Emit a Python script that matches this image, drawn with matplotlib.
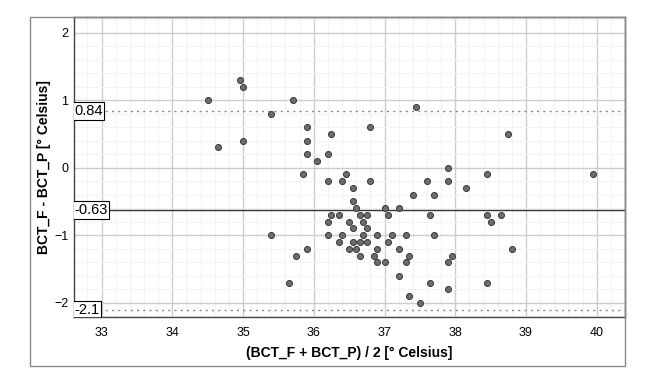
# Bland-Altman plot: BCT_F vs BCT_P
import matplotlib
matplotlib.use('Agg')
import matplotlib.pyplot as plt
from matplotlib.patches import Rectangle
from matplotlib.ticker import MultipleLocator
import matplotlib.transforms as mtransforms

plt.rcParams['font.family'] = ['Liberation Sans', 'DejaVu Sans']

# mean of the two measurements
mean_temp = [34.50, 34.95, 35.00, 34.65, 35.00, 35.40, 35.70, 35.90, 35.90, 35.90,
             36.05, 35.85, 36.20, 36.20, 36.25, 36.80, 36.45, 36.40, 36.80, 36.55,
             36.55, 36.60, 37.00, 37.20, 36.25, 36.35, 36.65, 36.75, 37.05, 36.20,
             36.50, 36.70, 36.55, 36.75, 36.20, 36.40, 36.70, 36.90, 37.10, 37.30,
             36.35, 36.55, 36.65, 36.75, 37.05, 36.50, 36.60, 36.90, 37.20, 35.90,
             35.75, 36.65, 36.85, 37.35, 36.90, 37.00, 37.30, 37.20, 35.65, 37.35,
             37.40, 37.70, 38.15, 37.60, 37.90, 37.65, 38.45, 38.65, 38.50, 37.70,
             38.80, 37.95, 37.90, 37.65, 38.45, 37.90, 37.50, 37.45, 38.75, 37.90,
             38.45, 39.95, 35.40]
# difference of the two measurements
diff_temp = [1.0, 1.3, 1.2, 0.3, 0.4, 0.8, 1.0, 0.6, 0.4, 0.2,
             0.1, -0.1, 0.2, -0.2, 0.5, 0.6, -0.1, -0.2, -0.2, -0.3,
             -0.5, -0.6, -0.6, -0.6, -0.7, -0.7, -0.7, -0.7, -0.7, -0.8,
             -0.8, -0.8, -0.9, -0.9, -1.0, -1.0, -1.0, -1.0, -1.0, -1.0,
             -1.1, -1.1, -1.1, -1.1, -1.1, -1.2, -1.2, -1.2, -1.2, -1.2,
             -1.3, -1.3, -1.3, -1.3, -1.4, -1.4, -1.4, -1.6, -1.7, -1.9,
             -0.4, -0.4, -0.3, -0.2, -0.2, -0.7, -0.7, -0.7, -0.8, -1.0,
             -1.2, -1.3, -1.4, -1.7, -1.7, -1.8, -2.0, 0.9, 0.5, 0.0,
             -0.1, -0.1, -1.0]

mean_diff = -0.63
upper_loa = 0.84
lower_loa = -2.1

W, H = 651, 384
fig = plt.figure(figsize=(W / 100, H / 100), dpi=100)

# outer frame
fig.patches.append(Rectangle((30 / W, 1 - 366 / H), (625 - 30) / W, (366 - 17) / H,
                             transform=fig.transFigure, fill=False,
                             edgecolor='#888888', lw=1.0))

ax = fig.add_axes([74 / W, 1 - 317 / H, (625 - 74) / W, (317 - 17) / H])
ax.set_xlim(32.61, 40.40)
ax.set_ylim(-2.21, 2.23)

ax.xaxis.set_major_locator(MultipleLocator(1))
ax.yaxis.set_major_locator(MultipleLocator(1))
ax.xaxis.set_minor_locator(MultipleLocator(0.2))
ax.yaxis.set_minor_locator(MultipleLocator(0.2))
ax.grid(which='minor', color='#f3f3f3', lw=0.8)
ax.grid(which='major', color='#cccccc', lw=1.0)
ax.set_axisbelow(True)
ax.tick_params(which='both', length=0, labelsize=9, colors='black')
ax.tick_params(axis='x', pad=7)
ax.tick_params(axis='y', pad=4)

for s in ax.spines.values():
    s.set_color('#444444')
    s.set_linewidth(1.0)

ax.axhline(upper_loa, color='#888888', lw=1.0, ls=(0, (1.5, 3)), zorder=2)
ax.axhline(lower_loa, color='#888888', lw=1.0, ls=(0, (1.5, 3)), zorder=2)
ax.axhline(mean_diff, color='#333333', lw=1.0, zorder=2)

ax.scatter(mean_temp, diff_temp, s=19, facecolor='#6c6c6c', edgecolor='#3a3a3a',
           linewidth=0.7, zorder=3)

trans = mtransforms.blended_transform_factory(ax.transAxes, ax.transData)
for val, txt in [(upper_loa, '0.84'), (mean_diff, '-0.63'), (lower_loa, '-2.1')]:
    ax.text(0.0, val, txt, transform=trans, ha='left', va='center', fontsize=10.5,
            bbox=dict(boxstyle='square,pad=0.12', facecolor='white',
                      edgecolor='black', lw=0.8), zorder=4, clip_on=True)

ax.set_xlabel('(BCT_F + BCT_P) / 2 [° Celsius]', fontsize=10, fontweight='bold')
ax.set_ylabel('BCT_F - BCT_P [° Celsius]', fontsize=10, fontweight='bold')
ax.xaxis.set_label_coords(0.5, (317 - 353) / 300, transform=ax.transAxes)
ax.yaxis.set_label_coords((44 - 74) / 551, 0.5, transform=ax.transAxes)
ax.xaxis.label.set_va('center')
ax.yaxis.label.set_va('center')

fig.savefig('out.png', dpi=100)
